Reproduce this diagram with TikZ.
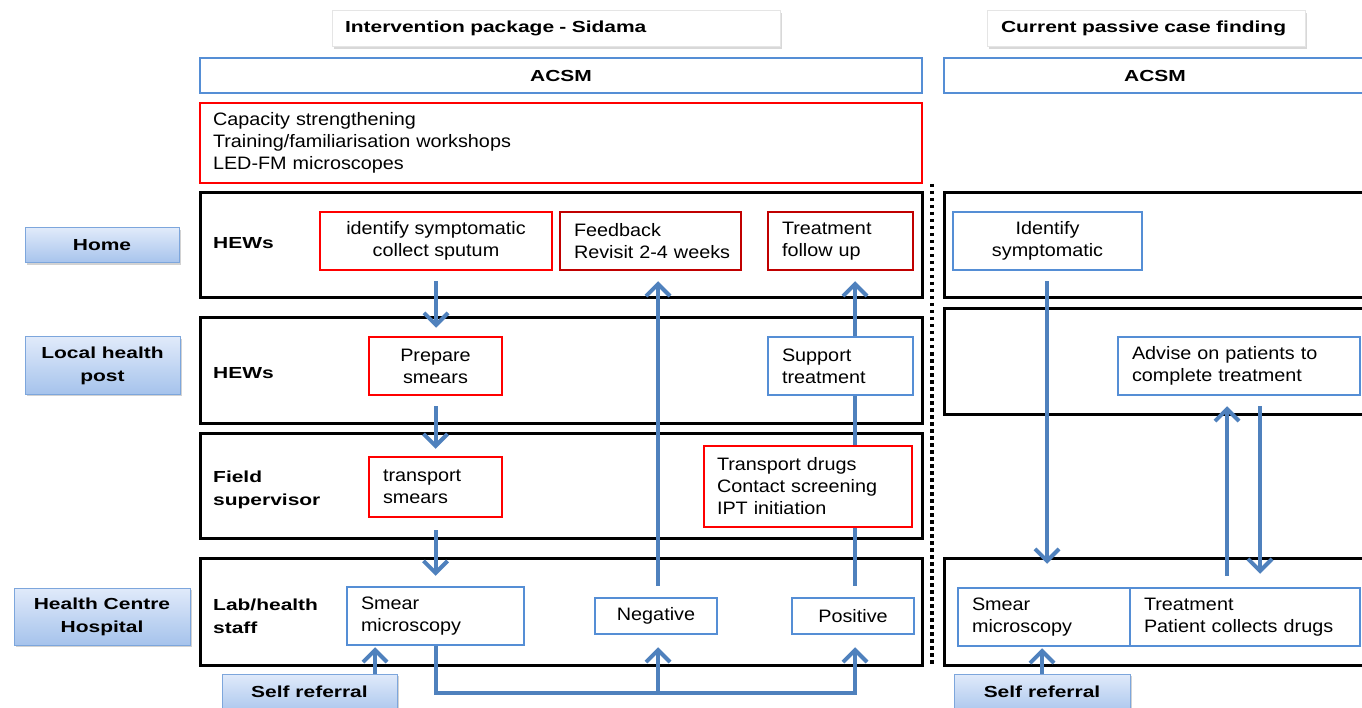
\documentclass[tikz,border=0pt]{standalone}
\usepackage{fontspec}
\setmainfont{Liberation Sans}[FakeStretch=1.10]
\newfontfamily\lblfont{Liberation Sans}[FakeStretch=1.31]
\usetikzlibrary{arrows.meta,shadows}
\definecolor{bl}{RGB}{79,129,189}
\definecolor{bbox}{RGB}{85,142,213}
\definecolor{rd}{RGB}{255,0,0}
\definecolor{drd}{RGB}{192,0,0}
\definecolor{lbtop}{RGB}{224,234,250}
\definecolor{lbbot}{RGB}{166,195,236}
\definecolor{lbborder}{RGB}{125,166,220}
\tikzset{
  cbox/.style n args={4}{at={({(#1+#3)/2},{(#2+#4)/2})}, minimum width={(#3)-(#1)}, minimum height={(#4)-(#2)}},
  body/.style={font=\fontsize{18}{22}\selectfont},
  lbl/.style={font=\lblfont\bfseries\fontsize{16}{23}\selectfont},
  inner/.style={draw, line width=2.5pt, fill=white, inner sep=0pt, body},
  lt/.style={text width=#1, align=left},
  ctr/.style={align=center},
  rowbox/.style={draw, line width=3pt, inner sep=0pt},
  tag/.style={lbl, draw=lbborder, line width=1pt, top color=lbtop, bottom color=lbbot,
    drop shadow={shadow xshift=2pt, shadow yshift=-2pt, fill=black!35}, align=center, inner sep=0pt},
  selftag/.style={tag, text height=12pt, text depth=8pt},
  titlebox/.style={lbl, draw=black!10, fill=white, line width=0.8pt,
    drop shadow={shadow xshift=2pt, shadow yshift=-3pt, fill=black!30}, inner sep=0pt},
  rowlbl/.style={lbl, anchor=west, align=left, inner sep=0pt},
  flowline/.style={draw=bl, line width=4pt},
  flow/.style={flowline, -{Straight Barb[length=12pt, width=24pt]}},
}
\begin{document}
\begin{tikzpicture}[x=1pt, y=-1pt]
\useasboundingbox (0,0) rectangle (1362,708);
\clip (0,0) rectangle (1362,708);
\fill[white] (0,0) rectangle (1362,708);

% titles
\node[titlebox, cbox={332}{10}{780}{46}, lt=422] (t1) {Intervention package - Sidama};
\node[titlebox, cbox={987}{10}{1305}{46}, lt=290] (t2) {Current passive case finding};

% ACSM
\node[inner, draw=bbox, lbl, cbox={200}{58}{922}{93}] (acsmL) {ACSM};
\node[inner, draw=bbox, lbl, cbox={944}{58}{1366}{93}] (acsmR) {ACSM};

% capacity
\node[inner, draw=rd, cbox={200}{103}{922}{183}, lt=696] (cap) {Capacity strengthening\\Training/familiarisation workshops\\LED-FM microscopes};

% dotted divider
\coordinate (d1) at (932,184);
\coordinate (d2) at (932,667);
\draw[line width=3.5pt, dash pattern=on 3.5pt off 3.5pt] (d1) -- (d2);

% row boxes
\node[rowbox, cbox={200}{193}{922}{298}] (homeL) {};
\node[rowbox, cbox={944}{193}{1366}{298}] (homeR) {};
\node[rowbox, cbox={200}{318}{922}{423}] (localL) {};
\node[rowbox, cbox={944}{309}{1366}{414}] (localR) {};
\node[rowbox, cbox={200}{433}{922}{538}] (fieldL) {};
\node[rowbox, cbox={200}{558}{922}{665}] (labL) {};
\node[rowbox, cbox={944}{558}{1366}{665}] (labR) {};

% row labels
\node[rowlbl] (r1) at (213,243) {HEWs};
\node[rowlbl] (r2) at (213,373) {HEWs};
\node[rowlbl] (r3) at (213,490) {Field\\supervisor};
\node[rowlbl] (r4) at (213,616) {Lab/health\\staff};

% tags
\node[tag, cbox={25}{228}{179}{263}] (tHome) {Home};
\node[tag, cbox={25}{337}{180}{394}] (tLocal) {Local health\\post};
\node[tag, cbox={14}{588}{190}{645}] (tHC) {Health Centre\\Hospital};
\node[selftag, cbox={222}{674}{397}{716}] (selfL) {Self referral};
\node[selftag, cbox={954}{674}{1130}{716}] (selfR) {Self referral};

% inner boxes
\node[inner, draw=rd, cbox={320}{212}{552}{270}, ctr] (ident) {identify symptomatic\\collect sputum};
\node[inner, draw=drd, cbox={560}{212}{741}{270}, lt=153] (feedback) {Feedback\\\mbox{Revisit 2-4 weeks}};
\node[inner, draw=drd, cbox={768}{212}{913}{270}, lt=117] (treatfu) {Treatment\\follow up};
\node[inner, draw=rd, cbox={369}{337}{502}{395}, ctr] (prepare) {Prepare\\smears};
\node[inner, draw=bbox, cbox={768}{337}{913}{395}, lt=117] (support) {Support\\treatment};
\node[inner, draw=rd, cbox={369}{457}{502}{517}, lt=105] (tsmear) {transport\\smears};
\node[inner, draw=bbox, cbox={347}{587}{524}{645}, lt=149] (smearL) {Smear\\microscopy};
\node[inner, draw=bbox, cbox={595}{598}{717}{634}, ctr] (negative) {Negative};
\node[inner, draw=bbox, cbox={792}{598}{914}{634}, ctr] (positive) {Positive};
\node[inner, draw=bbox, cbox={953}{212}{1142}{270}, ctr] (identR) {Identify\\symptomatic};
\node[inner, draw=bbox, cbox={1118}{337}{1360}{395}, lt=214] (advise) {Advise on patients to\\complete treatment};
\node[inner, draw=bbox, cbox={958}{588}{1130}{646}, lt=144] (smearR) {Smear\\microscopy};
\node[inner, draw=bbox, cbox={1130}{588}{1360}{646}, lt=202] (treatR) {Treatment\\Patient collects drugs};

% column coordinates for connectors
\coordinate (cneg) at (658,0);
\coordinate (cpos) at (855,0);
\coordinate (bus) at (0,693);
\coordinate (csrL) at (375,0);
\coordinate (c1) at (1047,0);
\coordinate (c2) at (1227,0);
\coordinate (c3) at (1260,0);
\coordinate (c4) at (1042,0);

% left connectors
\draw[flow, shorten <=10pt, shorten >=8pt] (ident.south) -- (ident.south |- prepare.north);
\draw[flow, shorten <=10pt, shorten >=7pt] (prepare.south) -- (prepare.south |- tsmear.north);
\draw[flow, shorten <=12pt, shorten >=10pt] (tsmear.south) -- (tsmear.south |- smearL.north);
\draw[flow, shorten <=11pt, shorten >=10pt] (cneg |- negative.north) -- (cneg |- feedback.south);
\draw[flowline, shorten <=11pt] (cpos |- positive.north) -- (cpos |- support.south);
\draw[flow, shorten >=10pt] (cpos |- support.north) -- (cpos |- treatfu.south);
\draw[flow, shorten >=12pt] (smearL.south) |- (cpos |- bus) -- (cpos |- positive.south);
\draw[flow, shorten >=12pt] (cneg |- bus) -- (cneg |- negative.south);
\draw[flow, shorten >=1pt] (csrL |- selfL.north) -- (csrL |- smearL.south);

% box drawn over the positive-support line
\node[inner, draw=rd, cbox={704}{446}{912}{527}, lt=182] (tdrugs) {Transport drugs\\Contact screening\\IPT initiation};

% right connectors
\draw[flow, shorten <=10pt, shorten >=23pt] (c1 |- identR.south) -- (c1 |- smearR.north);
\draw[flow, shorten <=11pt, shorten >=10pt] (c2 |- treatR.north) -- (c2 |- advise.south);
\draw[flow, shorten <=10pt, shorten >=13pt] (c3 |- advise.south) -- (c3 |- treatR.north);
\draw[flow, shorten >=1pt] (c4 |- selfR.north) -- (c4 |- smearR.south);
\end{tikzpicture}
\end{document}
